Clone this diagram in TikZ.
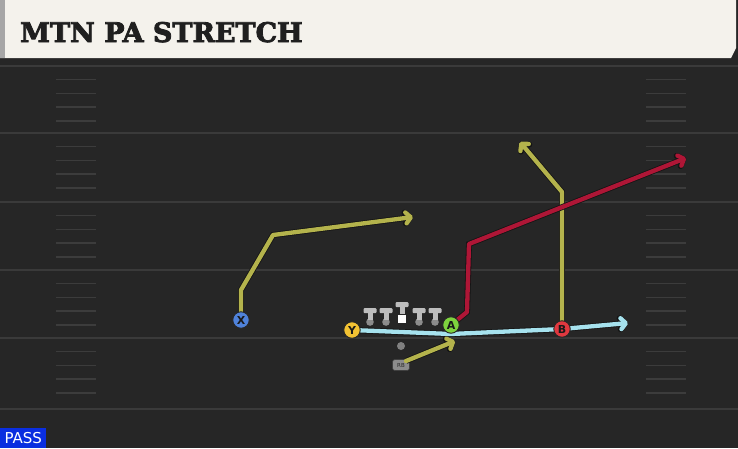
\documentclass[tikz,border=0pt]{standalone}
\usepackage{fontspec}
\usetikzlibrary{arrows.meta}
\newfontfamily\titlefont[FakeBold=3]{DejaVu Serif}
\newfontfamily\labfont{DejaVu Sans}
\definecolor{fieldbg}{HTML}{262626}
\definecolor{yardln}{HTML}{3A3A3A}
\definecolor{hashln}{HTML}{3C3C3C}
\definecolor{cream}{HTML}{F4F2EC}
\definecolor{rYel}{HTML}{B4B34C}
\definecolor{rRed}{HTML}{AE1636}
\definecolor{rBlue}{HTML}{A6E2EE}
\definecolor{pBlue}{HTML}{4F82DA}
\definecolor{pGold}{HTML}{F2C233}
\definecolor{pGreen}{HTML}{7ED33E}
\definecolor{pRed}{HTML}{E0383F}
\definecolor{passBlue}{HTML}{0A2EE0}
\definecolor{tgrey}{HTML}{BDBDBD}
\definecolor{bgrey}{HTML}{8C8C8C}
\tikzset{
  route/.style={line width=4.3pt, line join=round, line cap=round,
    -{Straight Barb[length=5pt,width=11pt,round]},
    preaction={draw=black!92, line width=5.9pt}},
  player/.style={circle, draw=black!85, line width=0.9pt, minimum size=16.5pt, inner sep=0pt,
    font=\labfont\bfseries\fontsize{11}{11}\selectfont, text=black!90},
  yard/.style={draw=yardln, line width=1.8pt},
  hashm/.style={draw=hashln, line width=1.4pt},
}
\begin{document}
\begin{tikzpicture}[x=1pt,y=-1pt]
\useasboundingbox (0,0) rectangle (738,448);
% field
\fill[fieldbg] (0,0) rectangle (738,448);
% yard lines
\foreach \yy in {66,133,202,270,338,409} \draw[yard] (0,\yy) -- (738,\yy);
% hash marks
\foreach \yb in {66,133,202,270,338} {
  \foreach \k in {1,2,3,4} {
    \draw[hashm] (56,\yb+13.7*\k) -- (96,\yb+13.7*\k);
    \draw[hashm] (646,\yb+13.7*\k) -- (686,\yb+13.7*\k);
  }
}
% header
\fill[black!85] (0,56) rectangle (738,62);
\fill[cream] (0,0) -- (736,0) -- (736,48) -- (731,58) -- (0,58) -- cycle;
\fill[black!35] (0,0) rectangle (5,58);
\node[anchor=base west, inner sep=0pt, font=\titlefont\bfseries\fontsize{27}{27}\selectfont, text=black!88] (title) at (20,42) {MTN PA STRETCH};
% PASS label
\node[anchor=south west, fill=passBlue, text=white, inner sep=0pt, minimum width=46pt, minimum height=20pt,
  font=\labfont\fontsize{15}{15}\selectfont] (pass) at (0,448) {PASS};

% linemen
\foreach \xx in {370,386,419,435} {
  \fill[bgrey] (\xx,322) circle (3.8pt);
  \fill[tgrey, rounded corners=1pt] (\xx-6.5,308) rectangle (\xx+6.5,313);
  \fill[tgrey] (\xx-2.5,312) rectangle (\xx+2.5,320);
}
\fill[tgrey, rounded corners=1pt] (395.5,302) rectangle (408.5,307);
\fill[tgrey] (399.5,306) rectangle (404.5,314);
\fill[white] (398,315) rectangle (406,323);
\node[inner sep=0pt, minimum size=0pt] (ctr) at (402,316) {};

% ball
\node[circle, fill=black!50, minimum size=8pt, inner sep=0pt] (ball) at (401,346) {};
% RB
\node[rounded corners=2.5pt, fill=black!45, draw=black!75, line width=0.6pt, minimum width=17pt, minimum height=11pt,
  inner sep=0pt, font=\labfont\fontsize{5.5}{5.5}\selectfont, text=black!85] (rb) at (401,365) {RB};

% waypoints
\coordinate (x1) at (241,290);
\coordinate (x2) at (273,235);
\coordinate (x3) at (413,217);
\coordinate (y1) at (451,334);
\coordinate (y2) at (562,329);
\coordinate (y3) at (628,323);
\coordinate (a1) at (467,312);
\coordinate (a2) at (469,244);
\coordinate (a3) at (686,158);
\coordinate (b1) at (562,192);
\coordinate (b2) at (520,142);
\coordinate (r0) at (406,361);
\coordinate (r1) at (455,341);

% player positions
\coordinate (Xp) at (241,320);
\coordinate (Yp) at (352,330);
\coordinate (Ap) at (451,325);
\coordinate (Bp) at (562,329);

% routes
\draw[route, rBlue] (Yp) -- (y1) -- (y2) -- (y3);
\draw[route, rYel] (Xp) -- (x1) -- (x2) -- (x3);
\draw[route, rYel] (Bp) -- (b1) -- (b2);
\draw[route, rRed] (Ap) -- (a1) -- (a2) -- (a3);
\draw[route, rYel] (r0) -- (r1);

% players
\node[player, fill=pBlue] (X) at (Xp) {X};
\node[player, fill=pGold] (Y) at (Yp) {Y};
\node[player, fill=pGreen] (A) at (Ap) {A};
\node[player, fill=pRed] (B) at (Bp) {B};
\end{tikzpicture}
\end{document}
